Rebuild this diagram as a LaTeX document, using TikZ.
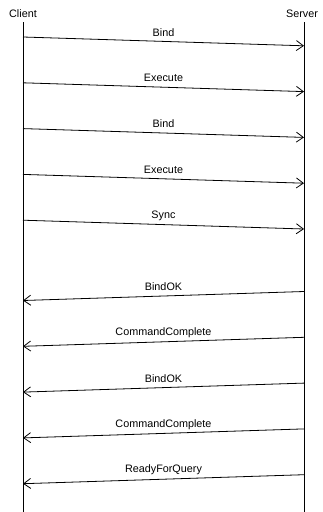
\documentclass[tikz,border=0pt]{standalone}
\usepackage{fontspec}
\setmainfont{Liberation Sans}
\usetikzlibrary{arrows.meta}
\begin{document}
\begin{tikzpicture}[x=1pt,y=-1pt,
  every node/.style={font=\fontsize{10.8}{12}\selectfont, inner sep=0pt},
  life/.style={line width=0.9pt},
  msg/.style={line width=0.8pt, -{Straight Barb[length=7pt,width=10pt,line width=0.8pt]}},
  lbl/.style={midway, yshift=9pt}]
\useasboundingbox[fill=white] (0,0) rectangle (322,512);
\node (client) at (23,14) {Client};
\node (server) at (302,14) {Server};
\coordinate (ctop) at (23,22);
\coordinate (cbot) at (23,512);
\coordinate (stop) at (304,22);
\coordinate (sbot) at (304,512);
\draw[life] (ctop) -- (cbot);
\draw[life] (stop) -- (sbot);
% requests
\foreach \i/\t in {0/Bind,1/Execute,2/Bind,3/Execute,4/Sync}{
  \coordinate (a\i) at (23,{37+45.8*\i});
  \coordinate (b\i) at (304,{45.8+45.8*\i});
  \draw[msg] (a\i) -- node[lbl] {\t} (b\i);
}
% responses
\foreach \i/\t in {0/BindOK,1/CommandComplete,2/BindOK,3/CommandComplete,4/ReadyForQuery}{
  \coordinate (r\i) at (304,{291.5+45.8*\i});
  \coordinate (l\i) at (23,{300.5+45.8*\i});
  \draw[msg] (r\i) -- node[lbl] {\t} (l\i);
}
\end{tikzpicture}
\end{document}
